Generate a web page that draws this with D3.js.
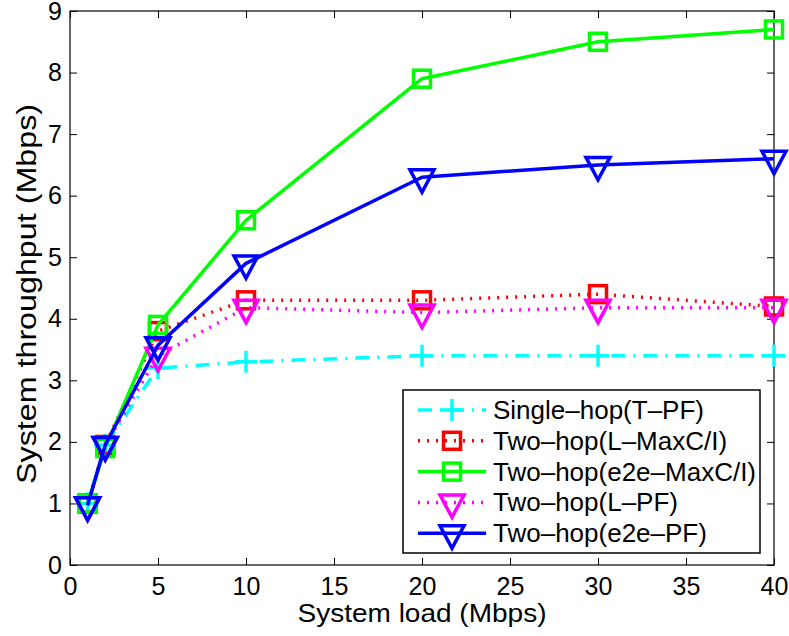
<!DOCTYPE html>
<html><head><meta charset="utf-8">
<script src="https://cdn.jsdelivr.net/npm/d3@7"></script>
<style>body{margin:0;background:#fff}</style>
</head><body>
<script>
const xValues = [1, 2, 5, 10, 20, 30, 40];
const singleHopTPF = [1.0, 1.95, 3.2, 3.3, 3.4, 3.4, 3.4];
const twoHopLMaxCI = [1.0, 1.95, 3.8, 4.3, 4.3, 4.4, 4.2];
const twoHopE2eMaxCI = [1.0, 1.9, 3.9, 5.6, 7.9, 8.5, 8.7];
const twoHopLPF = [0.97, 1.95, 3.4, 4.18, 4.1, 4.18, 4.18];
const twoHopE2ePF = [0.97, 1.95, 3.57, 4.9, 6.3, 6.5, 6.6];
const seriesNames = ["Single\u2013hop(T\u2013PF)", "Two\u2013hop(L\u2013MaxC/I)", "Two\u2013hop(e2e\u2013MaxC/I)", "Two\u2013hop(L\u2013PF)", "Two\u2013hop(e2e\u2013PF)"];
const xTicks = [0, 5, 10, 15, 20, 25, 30, 35, 40];
const yTicks = [0, 1, 2, 3, 4, 5, 6, 7, 8, 9];
const xLabel = "System load (Mbps)";
const yLabel = "System throughput (Mbps)";

const series = [
  {name: seriesNames[0], values: singleHopTPF, color: "#00ffff", dash: "14,8,2,8", marker: "plus"},
  {name: seriesNames[1], values: twoHopLMaxCI, color: "#ff0000", dash: "2,7", marker: "square"},
  {name: seriesNames[2], values: twoHopE2eMaxCI, color: "#00ff00", dash: null, marker: "square"},
  {name: seriesNames[3], values: twoHopLPF, color: "#ff00ff", dash: "2,7", marker: "tri"},
  {name: seriesNames[4], values: twoHopE2ePF, color: "#0000ff", dash: null, marker: "tri"}
];

const W = 789, H = 636;
const L = 70, R = 774, T = 11, B = 565;
const font = "'Liberation Sans', Arial, Helvetica, sans-serif";
const fs = 25;

const svg = d3.select("body").append("svg").attr("width", W).attr("height", H)
  .style("font-family", font);

const x = d3.scaleLinear().domain([0, 40]).range([L, R]);
const y = d3.scaleLinear().domain([0, 9]).range([B, T]);

const tickLen = 7;
const xAxisB = d3.axisBottom(x).tickValues(xTicks).tickSizeInner(-tickLen).tickSizeOuter(0).tickPadding(12);
const yAxisL = d3.axisLeft(y).tickValues(yTicks).tickSizeInner(-tickLen).tickSizeOuter(0).tickPadding(8);
const xAxisT = d3.axisTop(x).tickValues(xTicks).tickSizeInner(-tickLen).tickSizeOuter(0).tickFormat("");
const yAxisR = d3.axisRight(y).tickValues(yTicks).tickSizeInner(-tickLen).tickSizeOuter(0).tickFormat("");

function styleAxis(g) {
  g.select(".domain").remove();
  g.selectAll(".tick line").attr("stroke", "#000").attr("stroke-width", 1);
  g.selectAll("text").attr("fill", "#000").style("font-size", fs + "px").style("font-family", font);
}
svg.append("g").attr("transform", `translate(0,${B})`).call(xAxisB).call(styleAxis);
svg.append("g").attr("transform", `translate(${L},0)`).call(yAxisL).call(styleAxis);
svg.append("g").attr("transform", `translate(0,${T})`).call(xAxisT).call(styleAxis);
svg.append("g").attr("transform", `translate(${R},0)`).call(yAxisR).call(styleAxis);
svg.append("rect").attr("x", L).attr("y", T).attr("width", R - L).attr("height", B - T)
  .attr("fill", "none").attr("stroke", "#000").attr("stroke-width", 1.2);

svg.append("text").attr("x", (L + R) / 2).attr("y", 622).attr("text-anchor", "middle")
  .attr("textLength", 249).attr("lengthAdjust", "spacingAndGlyphs")
  .style("font-size", "26px").text(xLabel);
svg.append("text").attr("transform", `translate(36,294) rotate(-90)`).attr("text-anchor", "middle")
  .attr("textLength", 380).attr("lengthAdjust", "spacingAndGlyphs")
  .style("font-size", "27px").text(yLabel);

function drawMarker(g, type, cx, cy, color) {
  if (type === "plus") {
    g.append("path").attr("d", `M${cx - 11},${cy}H${cx + 11}M${cx},${cy - 11}V${cy + 11}`)
      .attr("stroke", color).attr("stroke-width", 3.5).attr("fill", "none");
  } else if (type === "square") {
    g.append("rect").attr("x", cx - 8.5).attr("y", cy - 8.5).attr("width", 17).attr("height", 17)
      .attr("stroke", color).attr("stroke-width", 3.5).attr("fill", "none");
  } else if (type === "tri") {
    const hw = 12, top = cy - 7.5, bot = cy + 15;
    g.append("path").attr("d", `M${cx - hw},${top}L${cx + hw},${top}L${cx},${bot}Z`)
      .attr("stroke", color).attr("stroke-width", 3.5).attr("fill", "none").attr("stroke-linejoin", "miter");
  }
}

const line = d3.line().x(d => x(d[0])).y(d => y(d[1]));
series.forEach(s => {
  const g = svg.append("g");
  const pts = xValues.map((v, i) => [v, s.values[i]]);
  g.append("path").attr("d", line(pts)).attr("fill", "none").attr("stroke", s.color)
    .attr("stroke-width", 3.5).attr("stroke-dasharray", s.dash).attr("stroke-linejoin", "round");
  pts.forEach(p => drawMarker(g, s.marker, x(p[0]), y(p[1]), s.color));
});

const lg = svg.append("g");
lg.append("rect").attr("x", 403).attr("y", 390).attr("width", 357).attr("height", 163)
  .attr("fill", "#fff").attr("stroke", "#000").attr("stroke-width", 1.5);
series.forEach((s, i) => {
  const cy = 410 + i * 30.8;
  lg.append("line").attr("x1", 418).attr("x2", 486).attr("y1", cy).attr("y2", cy)
    .attr("stroke", s.color).attr("stroke-width", 3.5).attr("stroke-dasharray", s.dash);
  drawMarker(lg, s.marker, 452, cy, s.color);
  lg.append("text").attr("x", 493).attr("y", cy + 9).style("font-size", "26px").text(s.name);
});
</script>
</body></html>
